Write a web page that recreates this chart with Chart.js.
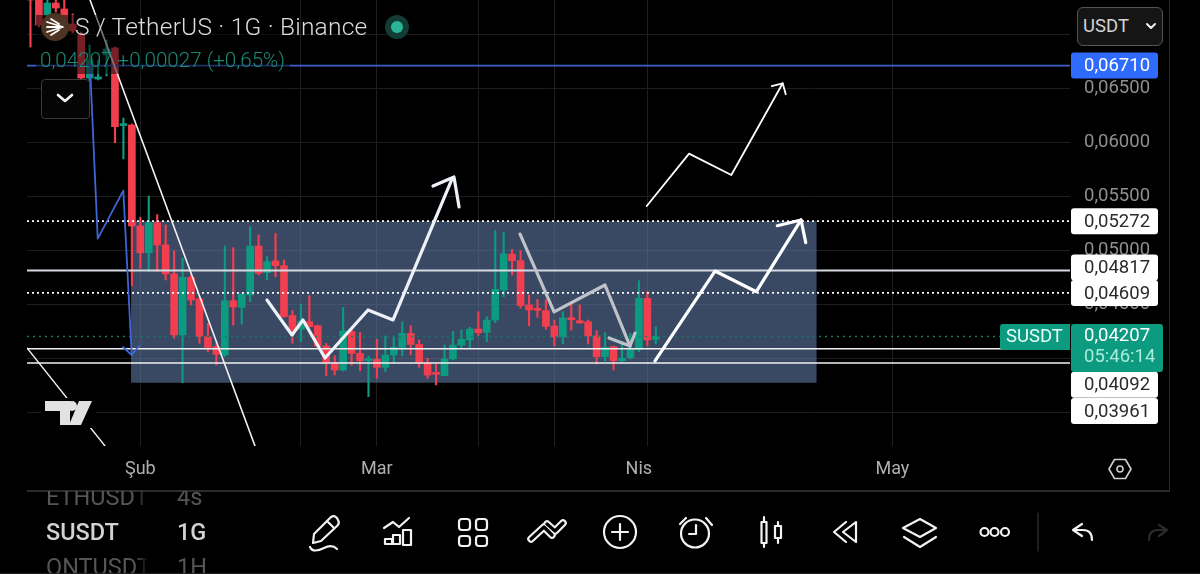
<!DOCTYPE html>
<html>
<head>
<meta charset="utf-8">
<title>SUSDT</title>
<script src="https://cdn.jsdelivr.net/npm/chart.js@4/dist/chart.umd.min.js"></script>
<style>
html, body { margin: 0; padding: 0; background: #000; width: 1200px; height: 574px; overflow: hidden; }
body, div { font-family: Roboto, sans-serif; }
#wrap { position: relative; width: 1200px; height: 574px; }
canvas { position: absolute; left: 0; top: 0; }
.abs { position: absolute; white-space: nowrap; }
#headerShade { left: 36px; top: 15px; width: 254px; height: 59px; background: rgba(0,0,0,0.5); }
#title { left: 75px; top: 12px; font-size: 24.5px; line-height: 30px; font-weight: 300; color: #dcdcdc; letter-spacing: 0.2px; }
#quote { left: 40px; top: 48px; font-size: 20.6px; line-height: 24px; font-weight: 300; color: #1c8a75; }
#usdtBtn { left: 1077px; top: 7px; width: 84px; height: 37px; border: 1px solid #555; border-radius: 6px; background: #151515; color: #d4d4d4; font-size: 18.5px; line-height: 37px; text-indent: 5px; }
#collapseBtn { left: 41px; top: 79px; width: 47px; height: 38px; border: 1px solid #3a3a3a; border-radius: 4px; background: #050505; }
#symbols { left: 46px; top: 491px; width: 200px; height: 82px; overflow: hidden; }
.sym { position: absolute; left: 0; white-space: nowrap; overflow: hidden; width: 102px; -webkit-mask-image: linear-gradient(to right, #000 88%, transparent); }
.res { position: absolute; left: 131px; white-space: nowrap; }
.dim { color: #555; font-size: 23.5px; line-height: 26px; }
.cur { color: #d2d2d2; font-size: 23.5px; line-height: 26px; font-weight: 500; }
#bottomEdge { left: 0; top: 573px; width: 1200px; height: 1px; background: #222; }
svg { position: absolute; left: 0; top: 0; }
</style>
</head>
<body>
<div id="wrap">
  <canvas id="myChart" width="1200" height="574"></canvas>
  <div class="abs" id="headerShade"></div>
  <div class="abs" id="title">S / TetherUS · 1G · Binance</div>
  <div class="abs" id="quote">0,04207 +0,00027 (+0,65%)</div>
  <div class="abs" id="usdtBtn">USDT</div>
  <div class="abs" id="collapseBtn"></div>
  <div class="abs" id="symbols">
    <div class="sym dim" style="top:-7px">ETHUSDT</div><div class="res dim" style="top:-7px">4s</div>
    <div class="sym cur" style="top:28px">SUSDT</div><div class="res cur" style="top:28px">1G</div>
    <div class="sym dim" style="top:63px">ONTUSDT</div><div class="res dim" style="top:63px">1H</div>
  </div>
  <div class="abs" id="bottomEdge"></div>
  <svg width="1200" height="574" fill="none" stroke="#f2f2f2" stroke-width="2.2" stroke-linecap="round" stroke-linejoin="round">
    <!-- header logo and status dot -->
    <circle cx="55" cy="27" r="14" fill="#4d3423" stroke="none"/>
    <path d="M47 22 L63 27 L47 32 M47 27 H59 M51 19 L59 24 M51 35 L59 30" stroke="#fff" stroke-width="1.8"/>
    <circle cx="397" cy="27" r="12" fill="#123d34" stroke="none"/>
    <circle cx="397" cy="27" r="6" fill="#2bb596" stroke="none"/>
    <!-- button chevrons -->
    <path d="M58 95 L65 101 L72 95" stroke-width="2.6"/>
    <path d="M1147 24 L1151 28 L1155 24" stroke-width="2"/>
    <!-- tv logo -->
    <rect x="41" y="398" width="55" height="30" fill="#000" stroke="none"/>
    <path d="M45 401 H70 V425 H60 V411 H45 Z M79 401 H92 L81 425 H69 Z" fill="#e2e2e2" stroke="none"/>
    <circle cx="72" cy="406" r="5" fill="#e2e2e2" stroke="none"/>
    <!-- hexagon -->
    <path d="M1109 469 L1114.5 459.5 H1125.5 L1131 469 L1125.5 478.5 H1114.5 Z" stroke="#cfcfcf" stroke-width="1.6"/>
    <circle cx="1120" cy="469" r="3" stroke="#cfcfcf" stroke-width="1.6"/>
    <!-- toolbar -->
    <path d="M314 534 L331 517 Q334 515 337 518 L338 520 Q340 523 337 526 L321 541 L313 543 Z M327 521 L334 528"/>
    <path d="M310 547 C312 552 318 551 324 548 C330 545 334 546 337 549"/>
    <path d="M384 528 L393 522 L399 527 L409 518"/>
    <path d="M385 539 H392 V544 H385 Z M393 535 H400 V544 H393 Z M403 530 H411 V545 H403 Z"/>
    <rect x="459" y="519" width="11" height="11" rx="3"/><rect x="476" y="519" width="11" height="11" rx="3"/>
    <rect x="459" y="536" width="11" height="10" rx="3"/><rect x="476" y="536" width="11" height="10" rx="3"/>
    <path d="M531 539 L544 527 L552 535 M547 524 L555 531 L563 523" stroke-width="7.5"/>
    <path d="M531 539 L544 527 L552 535 M547 524 L555 531 L563 523" stroke="#000" stroke-width="3.2"/>
    <circle cx="620" cy="532" r="16"/><path d="M620 524 V540 M612 532 H628"/>
    <circle cx="695" cy="533.5" r="14"/><path d="M696 525 V534 H689 M680 524 L686 518 M706 518 L712 525"/>
    <path d="M764 517 V522 M764 543 V547 M778 522 V526 M778 538 V543"/>
    <rect x="761.5" y="522" width="5" height="21"/><rect x="775" y="526" width="6" height="12"/>
    <path d="M846 522 L834 532 L846 542 M856 522 L843 532 L856 542 Z"/>
    <path d="M903 528 L920 519 L936 528 L920 537 Z M904 537 L920 547 L936 537"/>
    <circle cx="984.5" cy="532" r="4"/><circle cx="994.5" cy="532" r="4"/><circle cx="1005" cy="532" r="4"/>
    <path d="M1038 513 V551" stroke="#333" stroke-width="1.2"/>
    <path d="M1082 524 L1073 530 L1082 536 M1074 530 H1083 Q1092 530 1092 540"/>
    <path d="M1159 525 L1167 530 L1159 536 M1166 530 H1158 Q1149 530 1149 540" stroke="#2a2a2a"/>
  </svg>
</div>
<script>
// daily candles, day 0 = 1 Feb
const firstDay = -13;
const opens = [
    0.0733, 0.07316, 0.07177, 0.07288, 0.07233, 0.07094, 0.06993, 0.06595, 0.06586, 0.06808, 0.06873, 0.06155, 0.06161,
    0.05227, 0.04981, 0.05258, 0.05052, 0.04784, 0.0422, 0.04753, 0.04552, 0.04204, 0.04112,
    0.04035, 0.04537, 0.04475, 0.04589, 0.05042, 0.04796, 0.04904, 0.04861, 0.04401, 0.04272,
    0.04343, 0.04306, 0.04118, 0.03964, 0.03896, 0.04251, 0.0405, 0.03982, 0.03995, 0.03921,
    0.04035, 0.04106, 0.04235, 0.04133, 0.03958, 0.03865, 0.03844, 0.03998, 0.04127, 0.04174,
    0.04275, 0.04244, 0.04358, 0.04636, 0.04968, 0.04907, 0.04497, 0.04454, 0.04445, 0.04303,
    0.04201, 0.04377, 0.04352, 0.04343, 0.04211, 0.04019, 0.04112, 0.03982, 0.0401, 0.04087,
    0.04559, 0.0418
];
const highs = [
    0.0734, 0.0733, 0.07316, 0.07316, 0.07316, 0.07187, 0.0702, 0.069, 0.06762, 0.06946, 0.06882, 0.06225, 0.0617,
    0.05307, 0.05505, 0.05332, 0.05236, 0.04999, 0.04928, 0.04774, 0.04568, 0.04328, 0.04158,
    0.05042, 0.05027, 0.04605, 0.05221, 0.05144, 0.04944, 0.05159, 0.04913, 0.04445, 0.04503,
    0.04583, 0.04312, 0.04143, 0.04029, 0.04475, 0.04272, 0.04244, 0.04026, 0.0418, 0.04211,
    0.04211, 0.04343, 0.04306, 0.04174, 0.04004, 0.03952, 0.04127, 0.04251, 0.04266, 0.04291,
    0.04435, 0.04389, 0.05184, 0.05169, 0.05011, 0.04999, 0.04589, 0.04549, 0.04543, 0.04358,
    0.04435, 0.04528, 0.04497, 0.04358, 0.0426, 0.04241, 0.04118, 0.04158, 0.04235, 0.04722,
    0.0462, 0.04297
];
const lows = [
    0.06882, 0.07067, 0.0714, 0.07205, 0.07057, 0.07011, 0.0653, 0.06558, 0.06577, 0.06614, 0.05997, 0.05847, 0.04673,
    0.04836, 0.04805, 0.04805, 0.04728, 0.04189, 0.03779, 0.04497, 0.04143, 0.04066, 0.03942,
    0.04019, 0.04312, 0.04321, 0.04528, 0.04774, 0.04728, 0.04759, 0.04383, 0.04143, 0.04158,
    0.04291, 0.04112, 0.03844, 0.0385, 0.03887, 0.03942, 0.0389, 0.0365, 0.03819, 0.03881,
    0.03958, 0.04026, 0.04035, 0.03921, 0.03819, 0.03758, 0.03844, 0.03989, 0.04097, 0.04097,
    0.04214, 0.04158, 0.04334, 0.04574, 0.04774, 0.04466, 0.04306, 0.04383, 0.04272, 0.04118,
    0.04137, 0.04266, 0.04328, 0.04137, 0.03952, 0.03982, 0.03896, 0.03973, 0.03998, 0.04066,
    0.04118, 0.04137
];
const closes = [
    0.0732, 0.07085, 0.07288, 0.07242, 0.07085, 0.0703, 0.06595, 0.06762, 0.06604, 0.06863, 0.06145, 0.06161, 0.05227,
    0.04981, 0.05258, 0.05052, 0.04784, 0.0422, 0.04753, 0.04543, 0.04204, 0.04106, 0.04041,
    0.04537, 0.04478, 0.04596, 0.05042, 0.0479, 0.04897, 0.04861, 0.04389, 0.04266, 0.04349,
    0.04297, 0.04118, 0.03964, 0.03896, 0.04257, 0.0405, 0.03982, 0.03989, 0.03921, 0.04035,
    0.04106, 0.04235, 0.04133, 0.03958, 0.0385, 0.03856, 0.03998, 0.04127, 0.0418, 0.04275,
    0.04241, 0.04358, 0.04642, 0.04971, 0.04907, 0.04491, 0.04451, 0.04448, 0.043, 0.04201,
    0.04377, 0.04361, 0.04331, 0.04211, 0.04019, 0.04106, 0.03982, 0.04004, 0.04087, 0.04559,
    0.04174, 0.04207
];

const monthDays = [0, 28, 59, 89];
const monthLabels = ['Şub', 'Mar', 'Nis', 'May'];
const gridDays = [0, 19, 28, 40, 49, 60, 89];
const priceTicks = [0.035, 0.04, 0.045, 0.05, 0.055, 0.06, 0.065, 0.07];

// horizontal levels and their tags
const levelBlue = 0.0671;
const levelsDotted = [0.05272, 0.04609];
const levelSolid = 0.04817;
const levelsThin = [0.04092, 0.03961];
const lastPrice = 0.04207;
const countdown = '05:46:14';
const symbolTag = 'SUSDT';

const xMin = -13.41, xMax = 110.02, yMin = 0.03194, yMax = 0.07316;

// drawings, x in days and y in price
const boxDays = [-1.1, 80.05], boxTop = 0.05272, boxBottom = 0.03779;
const trendADays = [-5.95, 13.57], trendAPrices = [0.07316, 0.03194];
const trendBDays = [-13.41, -4.18], trendBPrices = [0.041, 0.03194];
const blueDays = [-5.95, -5.04, -2.01, -1.02], bluePrices = [0.06706, 0.0511, 0.05554, 0.04035];
const blueHeadDays = [-2.05, -1.02, -0.15], blueHeadPrices = [0.04109, 0.04035, 0.04118];
const arrowADays = [14.99, 17.95, 19.25, 21.86, 26.95, 29.91, 36.89], arrowAPrices = [0.04543, 0.0422, 0.04359, 0.04007, 0.04451, 0.04359, 0.05662];
const arrowAHeadDays = [34.64, 37.12, 37.72], arrowAHeadPrices = [0.05597, 0.0568, 0.05403];
const arrowBDays = [44.94, 48.96, 54.99, 57.95], arrowBPrices = [0.05153, 0.04433, 0.04682, 0.04118];
const arrowBHeadDays = [55.47, 57.95, 58.55], arrowBHeadPrices = [0.04192, 0.04118, 0.04238];
const arrowCDays = [60.91, 68.01, 72.9, 78.19], arrowCPrices = [0.0398, 0.04811, 0.0462, 0.05283];
const arrowCHeadDays = [75.38, 78.19, 78.75], arrowCHeadPrices = [0.0523, 0.05283, 0.05073];
const arrowDDays = [59.93, 64.94, 69.94, 76.02], arrowDPrices = [0.05412, 0.05896, 0.05699, 0.06546];
const arrowDHeadDays = [74.72, 76.02, 76.38], arrowDHeadPrices = [0.06521, 0.06546, 0.06445];

const GREEN = '#0c9a80';
const RED = '#f23f4f';

function toPoints(xs, ys) {
    return xs.map((x, i) => ({ x: x, y: ys[i] }));
}

function lineSet(xs, ys, color, width, order, dash) {
    return {
        type: 'line',
        data: toPoints(xs, ys),
        borderColor: color,
        borderWidth: width,
        borderDash: dash || [],
        pointRadius: 0,
        tension: 0,
        fill: false,
        order: order,
        borderCapStyle: 'round',
        borderJoinStyle: 'round'
    };
}

function levelSet(price, color, width, dash) {
    const set = lineSet([xMin, xMax], [price, price], color, width, 3, dash);
    set.borderCapStyle = 'butt';
    return set;
}

function noPadding(scale) {
    scale.paddingTop = 0;
    scale.paddingBottom = 0;
    scale.paddingLeft = 0;
    scale.paddingRight = 0;
}

const candleDays = opens.map((v, i) => firstDay + i);
const candleColors = opens.map((v, i) => closes[i] >= v ? GREEN : RED);

const priceTagsPlugin = {
    id: 'priceTags',
    afterDraw(chart) {
        const ctx = chart.ctx;
        const yScale = chart.scales.y;
        // shift in px, the app pushes tags apart when they collide
        const tag = (price, bg, fg, shift) => {
            const y = yScale.getPixelForValue(price) + shift;
            ctx.fillStyle = bg;
            ctx.beginPath();
            ctx.roundRect(1071, y - 13, 87, 26, 3);
            ctx.fill();
            ctx.fillStyle = fg;
            ctx.fillText(price.toFixed(5).replace('.', ','), 1084, y + 1);
        };
        ctx.save();
        ctx.font = '18.5px Roboto';
        ctx.textBaseline = 'middle';
        ctx.textAlign = 'left';
        // axis frame
        ctx.fillStyle = '#2b2b2b';
        ctx.fillRect(27, 490, 1143, 2);
        ctx.fillRect(1169, 0, 1, 490);

        tag(levelBlue, '#2f6bff', '#ffffff', 0);
        tag(levelsDotted[0], '#ffffff', '#2a2a2a', 0);
        tag(levelSolid, '#ffffff', '#2a2a2a', -3);
        tag(levelsDotted[1], '#ffffff', '#2a2a2a', 0);
        tag(levelsThin[0], '#ffffff', '#2a2a2a', 36);
        tag(levelsThin[1], '#ffffff', '#2a2a2a', 48);

        const y = yScale.getPixelForValue(lastPrice);
        ctx.fillStyle = GREEN;
        ctx.beginPath();
        ctx.roundRect(1071, y - 12.5, 92, 48, 3);
        ctx.fill();
        ctx.beginPath();
        ctx.roundRect(1000, y - 12.5, 70, 26, [3, 0, 0, 3]);
        ctx.fill();
        ctx.fillStyle = '#ffffff';
        ctx.fillText(lastPrice.toFixed(5).replace('.', ','), 1084, y - 0.5);
        ctx.fillStyle = '#a9ecdc';
        ctx.fillText(countdown, 1084, y + 21);
        ctx.fillStyle = '#e8fff9';
        ctx.fillText(symbolTag, 1006, y + 1);
        ctx.restore();
    }
};

new Chart(document.getElementById('myChart').getContext('2d'), {
    type: 'bar',
    data: {
        datasets: [
            lineSet(arrowADays, arrowAPrices, '#eef2f8', 3.2, 1),
            lineSet(arrowAHeadDays, arrowAHeadPrices, '#eef2f8', 3.2, 1),
            lineSet(arrowBDays, arrowBPrices, '#bfc3c9', 3.2, 1),
            lineSet(arrowBHeadDays, arrowBHeadPrices, '#bfc3c9', 3.2, 1),
            lineSet(arrowCDays, arrowCPrices, '#ffffff', 3.2, 1),
            lineSet(arrowCHeadDays, arrowCHeadPrices, '#ffffff', 3.2, 1),
            lineSet(arrowDDays, arrowDPrices, '#ffffff', 1.8, 1),
            lineSet(arrowDHeadDays, arrowDHeadPrices, '#ffffff', 1.8, 1),
            lineSet(blueDays, bluePrices, '#3f66d8', 1.8, 2),
            lineSet(blueHeadDays, blueHeadPrices, '#3f66d8', 1.8, 2),
            lineSet(trendADays, trendAPrices, '#f2f2f2', 1.6, 2),
            lineSet(trendBDays, trendBPrices, '#f2f2f2', 1.4, 2),
            levelSet(levelBlue, '#3f5fcf', 1.8),
            levelSet(levelsDotted[0], '#ffffff', 1.6, [2, 3]),
            levelSet(levelsDotted[1], '#ffffff', 1.6, [2, 3]),
            levelSet(levelSolid, '#d6dae0', 2),
            levelSet(levelsThin[0], '#f0f0f0', 1.5),
            levelSet(levelsThin[1], '#f0f0f0', 1.5),
            levelSet(lastPrice, '#127a67', 1.5, [2, 4]),
            {
                label: 'body',
                data: candleDays.map((d, i) => ({ x: d, y: [opens[i], closes[i]] })),
                backgroundColor: candleColors,
                barThickness: 7,
                minBarLength: 2,
                grouped: false,
                order: 4
            },
            {
                label: 'wick',
                data: candleDays.map((d, i) => ({ x: d, y: [lows[i], highs[i]] })),
                backgroundColor: candleColors,
                barThickness: 1.5,
                grouped: false,
                order: 5
            },
            {
                type: 'line',
                label: 'box',
                data: toPoints(boxDays, [boxTop, boxTop]),
                borderWidth: 0,
                borderColor: 'rgba(0,0,0,0)',
                pointRadius: 0,
                backgroundColor: 'rgba(95,120,165,0.6)',
                fill: { value: boxBottom },
                order: 10
            }
        ]
    },
    options: {
        responsive: false,
        animation: false,
        events: [],
        layout: { padding: { left: 27, top: 0, right: 0, bottom: 84 } },
        plugins: { legend: { display: false }, tooltip: { enabled: false } },
        scales: {
            x: {
                type: 'linear',
                min: xMin,
                max: xMax,
                offset: false,
                afterBuildTicks: scale => {
                    const all = gridDays.concat(monthDays.filter(d => !gridDays.includes(d)));
                    scale.ticks = all.sort((a, b) => a - b).map(v => ({ value: v }));
                },
                afterFit: scale => { scale.height = 44; noPadding(scale); },
                border: { display: false },
                grid: {
                    drawTicks: false,
                    offset: false,
                    color: ctx => (ctx.tick && gridDays.includes(ctx.tick.value)) ? '#1e1e1e' : 'rgba(0,0,0,0)'
                },
                ticks: {
                    autoSkip: false,
                    maxRotation: 0,
                    padding: 13,
                    color: '#b0b0b0',
                    font: { family: 'Roboto', size: 18 },
                    callback: value => {
                        const i = monthDays.indexOf(value);
                        return i >= 0 ? monthLabels[i] : '';
                    }
                }
            },
            y: {
                position: 'right',
                min: yMin,
                max: yMax,
                afterBuildTicks: scale => {
                    scale.ticks = priceTicks.map(v => ({ value: v }));
                },
                afterFit: scale => { scale.width = 130; noPadding(scale); },
                border: { display: false },
                grid: { drawTicks: false, color: '#1e1e1e' },
                ticks: {
                    padding: 14,
                    color: '#8f8f8f',
                    font: { family: 'Roboto', size: 18.5 },
                    callback: value => value.toFixed(5).replace('.', ',')
                }
            }
        }
    },
    plugins: [priceTagsPlugin]
});
</script>
</body>
</html>
